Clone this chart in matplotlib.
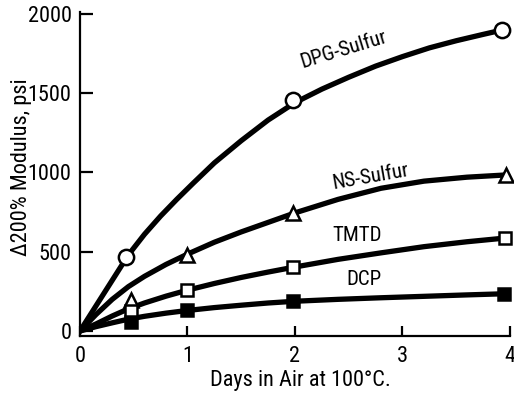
import matplotlib
matplotlib.use("Agg")
import matplotlib.pyplot as plt
from matplotlib import font_manager

available = {f.name for f in font_manager.fontManager.ttflist}
narrow = None
for cand in ['Liberation Sans Narrow', 'DejaVu Sans Condensed', 'Roboto Condensed', 'Open Sans Condensed']:
    if cand in available:
        narrow = cand
        break
if narrow is not None:
    plt.rcParams['font.family'] = [narrow, 'DejaVu Sans']
    tick_fs, label_fs, note_fs = 16, 16, 15
else:
    plt.rcParams['font.family'] = ['Liberation Sans', 'DejaVu Sans']
    tick_fs, label_fs, note_fs = 13.5, 13.5, 13

# Hand-drawn smooth curves (days, delta 200% modulus psi)
dpg_curve_x = [0, 0.15, 0.3, 0.45, 0.6, 0.75, 0.9, 1.05, 1.25, 1.5, 1.75, 2.0,
               2.25, 2.5, 2.75, 3.0, 3.25, 3.5, 3.75, 3.93]
dpg_curve_y = [0, 160, 320, 480, 610, 725, 830, 930, 1060, 1200, 1330, 1440,
               1525, 1600, 1670, 1730, 1785, 1830, 1870, 1898]
ns_curve_x = [0, 0.15, 0.3, 0.45, 0.6, 0.8, 1.0, 1.25, 1.5, 1.75, 2.0, 2.4, 2.8,
              3.2, 3.6, 3.96]
ns_curve_y = [0, 105, 200, 280, 345, 420, 485, 560, 625, 685, 745, 830, 900,
              945, 970, 984]
tmtd_curve_x = [0, 0.15, 0.3, 0.45, 0.6, 0.8, 1.0, 1.25, 1.5, 1.75, 2.0, 2.4,
                2.8, 3.2, 3.6, 3.95]
tmtd_curve_y = [0, 45, 95, 140, 177, 220, 258, 300, 338, 372, 404, 452, 493,
                532, 563, 586]
dcp_curve_x = [0, 0.15, 0.3, 0.45, 0.6, 0.8, 1.0, 1.25, 1.5, 1.75, 2.0, 2.4,
               2.8, 3.2, 3.6, 3.94]
dcp_curve_y = [0, 28, 52, 75, 93, 113, 130, 148, 163, 177, 188, 200, 210, 219,
               228, 235]

# Measured points (markers)
dpg_x = [0.43, 1.98, 3.93]
dpg_y = [467, 1456, 1898]
ns_x = [0.47, 1.0, 1.98, 3.96]
ns_y = [195, 479, 747, 984]
tmtd_x = [0.47, 1.0, 1.98, 3.95]
tmtd_y = [125, 258, 404, 586]
dcp_x = [0.47, 1.0, 1.98, 3.94]
dcp_y = [60, 130, 190, 235]

x_ticks = [0, 1, 2, 3, 4]
y_ticks = [0, 500, 1000, 1500, 2000]

fig = plt.figure(figsize=(5.14, 3.98), dpi=100)
ax = fig.add_axes([0.1556, 0.1558, 0.8366, 0.814])

lw = 3.8
for cx, cy in [(dpg_curve_x, dpg_curve_y), (ns_curve_x, ns_curve_y),
               (tmtd_curve_x, tmtd_curve_y), (dcp_curve_x, dcp_curve_y)]:
    ax.plot(cx, cy, color='black', lw=lw, solid_capstyle='round',
            solid_joinstyle='round', zorder=2)

ax.plot(dpg_x, dpg_y, 'o', ms=11, mfc='white', mec='black', mew=1.8, clip_on=False, zorder=3)
ax.plot(ns_x, ns_y, '^', ms=10, mfc='white', mec='black', mew=1.8, clip_on=False, zorder=3)
ax.plot(tmtd_x, tmtd_y, 's', ms=9, mfc='white', mec='black', mew=1.8, clip_on=False, zorder=3)
ax.plot(dcp_x, dcp_y, 's', ms=9, mfc='black', mec='black', mew=1.8, clip_on=False, zorder=3)

ax.set_xlim(0, 4)
ax.set_ylim(-31, 2011)
ax.set_xticks(x_ticks)
ax.set_yticks(y_ticks)
ax.set_xticklabels([str(t) for t in x_ticks])
ax.set_yticklabels([str(t) for t in y_ticks])

for s in ['top', 'right']:
    ax.spines[s].set_visible(False)
for s in ['left', 'bottom']:
    ax.spines[s].set_linewidth(1.6)

ax.tick_params(axis='x', direction='in', length=7, width=1.6, labelsize=tick_fs, pad=7)
ax.tick_params(axis='y', direction='in', length=9, width=1.6, labelsize=tick_fs, pad=6)

ax.set_xlabel('Days in Air at 100°C.', fontsize=label_fs)
ax.set_ylabel('Δ200% Modulus, psi', fontsize=label_fs)
ax.xaxis.set_label_coords(0.512, -0.105)
ax.yaxis.set_label_coords(-0.112, 0.52)

ax.text(2.45, 1772, 'DPG-Sulfur', fontsize=note_fs, rotation=17, ha='center', va='center')
ax.text(2.70, 971, 'NS-Sulfur', fontsize=note_fs, rotation=10, ha='center', va='center')
ax.text(2.58, 605, 'TMTD', fontsize=note_fs, ha='center', va='center')
ax.text(2.64, 322, 'DCP', fontsize=note_fs, ha='center', va='center')

fig.savefig('out.png', dpi=100)
